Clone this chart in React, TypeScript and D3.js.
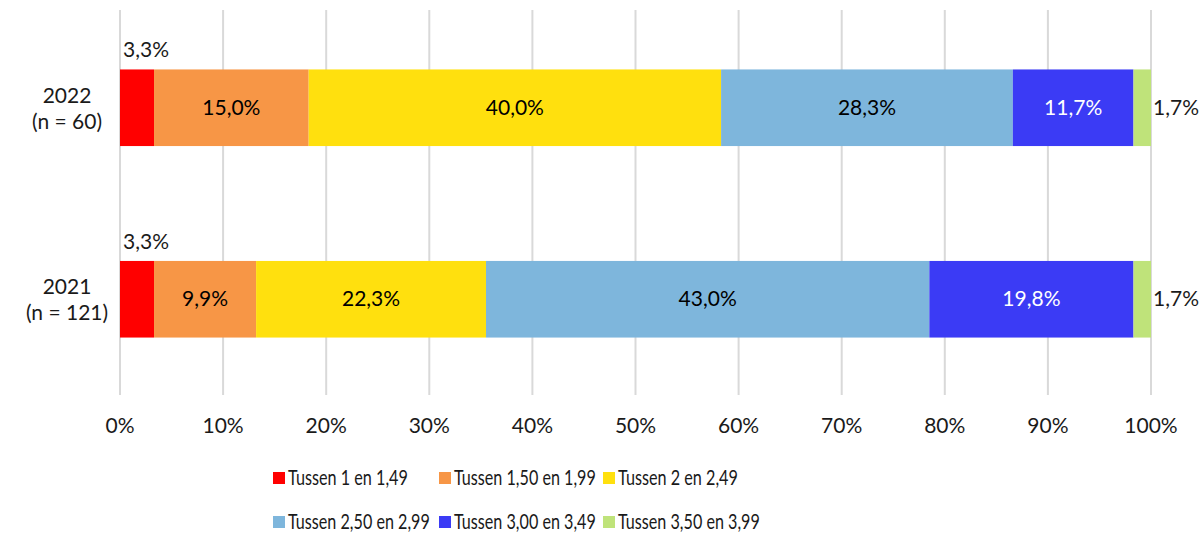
import React, { useEffect, useRef } from 'react';
import * as d3 from 'd3';

const years = ['2022', '2021'];
const yearNotes = ['(n = 60)', '(n = 121)'];
const seriesNames = [
  'Tussen 1 en 1,49',
  'Tussen 1,50 en 1,99',
  'Tussen 2 en 2,49',
  'Tussen 2,50 en 2,99',
  'Tussen 3,00 en 3,49',
  'Tussen 3,50 en 3,99',
];
const colors = ['#FF0000', '#F79646', '#FFE00E', '#7EB6DC', '#3B3BF5', '#BFE37A'];
const labelColors = ['#000', '#000', '#000', '#000', '#fff', '#000'];
const values2022 = [3.3, 15.0, 40.0, 28.3, 11.7, 1.7];
const values2021 = [3.3, 9.9, 22.3, 43.0, 19.8, 1.7];
const ticks = [0, 10, 20, 30, 40, 50, 60, 70, 80, 90, 100];

const W = 1201;
const H = 535;
const font = 'Lato, "Liberation Sans", sans-serif';
const fs = 21;

const fmt = (v: number) => v.toFixed(1).replace('.', ',') + '%';

export default function App() {
  const legendRef = useRef<SVGGElement>(null);
  const x = d3.scaleLinear().domain([0, 100]).range([120, 1151]);
  const y = d3.scaleBand().domain(years).range([12, 395]).paddingInner(0.6).paddingOuter(0.3);
  const rows = [values2022, values2021];

  const legendCols = [273, 439, 603];
  const legendRows = [478, 522];

  // squeeze legend labels horizontally to the narrow widths of the original
  useEffect(() => {
    if (!legendRef.current) return;
    d3.select(legendRef.current).selectAll<SVGTextElement, unknown>('text.lg').each(function () {
      const el = this;
      const target = +(el.getAttribute('data-w') || 0);
      const natural = el.getComputedTextLength();
      const k = natural > target ? target / natural : 1;
      const tx = +(el.getAttribute('data-x') || 0);
      const ty = +(el.getAttribute('data-y') || 0);
      d3.select(el).attr('x', 0).attr('y', 0).attr('transform', `translate(${tx},${ty}) scale(${k},1)`);
    });
  }, []);

  return (
    <svg width={W} height={H} style={{ position: 'absolute', left: 0, top: 0, fontFamily: font }}>
      <rect width={W} height={H} fill="#fff" />
      {ticks.map(t => (
        <g key={t}>
          <line x1={x(t)} x2={x(t)} y1={10} y2={395} stroke="#D9D9D9" strokeWidth={2} />
          <text x={x(t)} y={433} textAnchor="middle" fontSize={fs} fill="#1a1a1a">{t}%</text>
        </g>
      ))}
      {years.map((yr, i) => {
        const vals = rows[i];
        const by = y(yr)!;
        const bh = y.bandwidth();
        let cum = 0;
        return (
          <g key={yr}>
            <text x={67} y={by + bh / 2 - 5} textAnchor="middle" fontSize={fs} fill="#1a1a1a">{yr}</text>
            <text x={67} y={by + bh / 2 + 21} textAnchor="middle" fontSize={fs} fill="#1a1a1a">{yearNotes[i]}</text>
            {vals.map((v, j) => {
              const x0 = x(cum);
              cum += v;
              const x1 = x(cum);
              let label;
              if (j === 0) {
                label = <text x={x0 + 3} y={by - 12} fontSize={fs} fill="#1a1a1a">{fmt(v)}</text>;
              } else if (j === vals.length - 1) {
                label = <text x={x1 + 2} y={by + bh / 2 + 7} fontSize={fs} fill="#1a1a1a">{fmt(v)}</text>;
              } else {
                label = <text x={(x0 + x1) / 2} y={by + bh / 2 + 7} textAnchor="middle" fontSize={fs} fill={labelColors[j]}>{fmt(v)}</text>;
              }
              return (
                <g key={j}>
                  <rect x={x0} y={by} width={x1 - x0} height={bh} fill={colors[j]} />
                  {label}
                </g>
              );
            })}
          </g>
        );
      })}
      <g ref={legendRef}>
        {seriesNames.map((name, k) => {
          const lx = legendCols[k % 3];
          const ly = legendRows[Math.floor(k / 3)];
          const len = k === 0 || k === 2 ? 120 : 142;
          return (
            <g key={name}>
              <rect x={lx} y={ly - 6} width={12} height={12} fill={colors[k]} />
              <text className="lg" x={lx + 15} y={ly + 7} data-x={lx + 15} data-y={ly + 7} data-w={len}
                fontSize={fs} fill="#1a1a1a">{name}</text>
            </g>
          );
        })}
      </g>
    </svg>
  );
}
